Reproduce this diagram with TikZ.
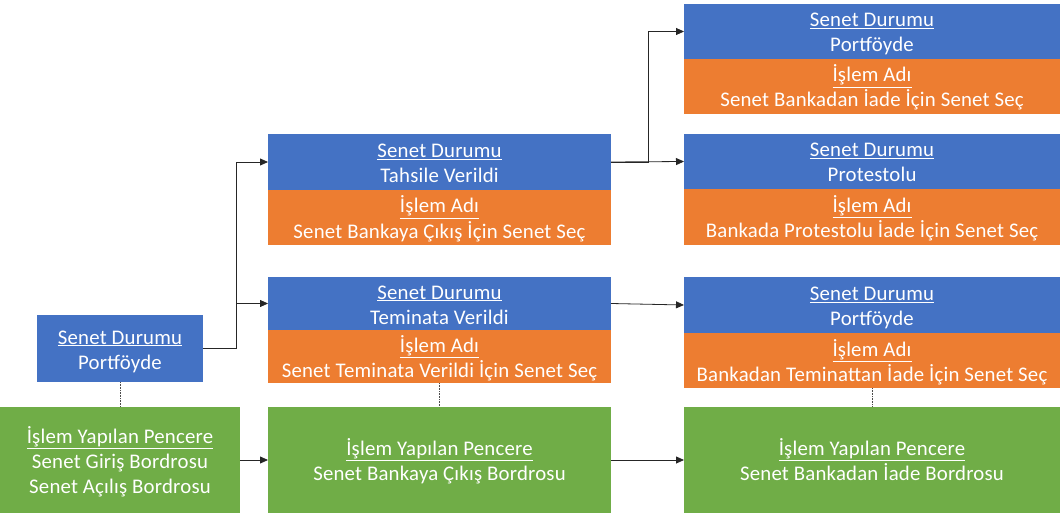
\documentclass[tikz,border=0pt]{standalone}
\usepackage{fontspec}
\setmainfont{Carlito}[LetterSpace=1.0]
\usetikzlibrary{arrows.meta}
\definecolor{cblue}{HTML}{4472C4}
\definecolor{corange}{HTML}{ED7D31}
\definecolor{cgreen}{HTML}{70AD47}
\newcommand\topstrut{\rule{0pt}{22pt}}
\newcommand\ul[1]{\topstrut\underline{#1}}
\begin{document}
\begin{tikzpicture}[x=1pt,y=-1pt,
  box/.style={inner sep=0pt, outer sep=0pt, text=white, align=center,
    font=\fontsize{20.8}{25}\selectfont,
    execute at end node={\rule[-6pt]{0pt}{6pt}}},
  bl/.style={box, fill=cblue},
  og/.style={box, fill=corange},
  gr/.style={box, fill=cgreen},
  conn/.style={draw=black!85, line width=0.8pt, -{Triangle[length=8pt,width=7pt]}},
  link/.style={draw=black!70, line width=0.6pt, densely dotted}]
\useasboundingbox (0,0) rectangle (1060,513);
% left column
\node[bl, minimum width=166, minimum height=67] (a) at (120,348.5) {\ul{Senet Durumu}\\Portföyde};
\node[gr, minimum width=240, minimum height=106] (g1) at (120,460) {\ul{İşlem Yapılan Pencere}\\Senet Giriş Bordrosu\\Senet Açılış Bordrosu};
% middle column
\node[bl, minimum width=343, minimum height=56] (b1) at (439.5,162) {\ul{Senet Durumu}\\Tahsile Verildi};
\node[og, minimum width=343, minimum height=55, anchor=north] (b1o) at (b1.south) {\ul{İşlem Adı}\\Senet Bankaya Çıkış İçin Senet Seç};
\node[bl, minimum width=343, minimum height=53] (b2) at (439.5,303.5) {\ul{Senet Durumu}\\Teminata Verildi};
\node[og, minimum width=343, minimum height=53, anchor=north] (b2o) at (b2.south) {\ul{İşlem Adı}\\Senet Teminata Verildi İçin Senet Seç};
\node[gr, minimum width=343, minimum height=106] (g2) at (439.5,460) {\ul{İşlem Yapılan Pencere}\\Senet Bankaya Çıkış Bordrosu};
% right column
\node[bl, minimum width=376, minimum height=55] (c1) at (872,31.5) {\ul{Senet Durumu}\\Portföyde};
\node[og, minimum width=376, minimum height=55, anchor=north] (c1o) at (c1.south) {\ul{İşlem Adı}\\Senet Bankadan İade İçin Senet Seç};
\node[bl, minimum width=376, minimum height=55] (c2) at (872,161.5) {\ul{Senet Durumu}\\Protestolu};
\node[og, minimum width=376, minimum height=56, anchor=north] (c2o) at (c2.south) {\ul{İşlem Adı}\\Bankada Protestolu İade İçin Senet Seç};
\node[bl, minimum width=376, minimum height=56] (c3) at (872,305) {\ul{Senet Durumu}\\Portföyde};
\node[og, minimum width=376, minimum height=55, anchor=north] (c3o) at (c3.south) {\ul{İşlem Adı}\\Bankadan Teminattan İade İçin Senet Seç};
\node[gr, minimum width=376, minimum height=106] (g3) at (872,460) {\ul{İşlem Yapılan Pencere}\\Senet Bankadan İade Bordrosu};
% connectors
\draw[conn] (a.east) -- ++(33,0) coordinate (j1) |- (b1.west);
\draw[conn] (j1) |- (b2.west);
\draw[conn] (b1.east) -- ++(37,0) coordinate (j2) |- (c1.west);
\draw[conn] (b1.east) -- (c2.west);
\draw[conn] (b2.east) -- (c3.west);
\draw[conn] (g1.east) -- (g2.west);
\draw[conn] (g2.east) -- (g3.west);
\draw[link] (a.south) -- (g1.north -| a.south);
\draw[link] (b2o.south) -- (g2.north);
\draw[link] (c3o.south) -- (g3.north);
\end{tikzpicture}
\end{document}
